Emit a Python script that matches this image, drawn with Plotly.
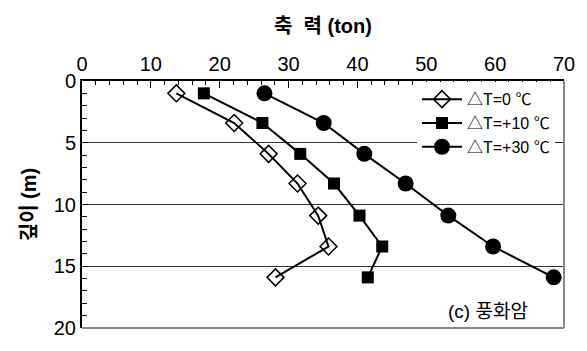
import plotly.graph_objects as go

depth = [1.0, 3.4, 5.9, 8.3, 10.9, 13.4, 15.9]
force_dt0 = [13.7, 22.1, 27.1, 31.3, 34.3, 35.8, 28.1]
force_dt10 = [17.7, 26.2, 31.7, 36.6, 40.3, 43.6, 41.5]
force_dt30 = [26.5, 35.1, 41.0, 47.0, 53.2, 59.7, 68.5]
names = ["△T=0 ℃", "△T=+10 ℃", "△T=+30 ℃"]
x_ticks = [0, 10, 20, 30, 40, 50, 60, 70]
y_ticks = [0, 5, 10, 15, 20]

FONT = "Liberation Sans, Noto Sans CJK KR, sans-serif"

fig = go.Figure()
fig.add_trace(go.Scatter(x=force_dt0, y=depth, name=names[0], mode="lines+markers",
                         line=dict(color="black", width=2),
                         marker=dict(symbol="diamond-open", size=13, color="black",
                                     line=dict(width=1.5, color="black"))))
fig.add_trace(go.Scatter(x=force_dt10, y=depth, name=names[1], mode="lines+markers",
                         line=dict(color="black", width=2),
                         marker=dict(symbol="square", size=12, color="black")))
fig.add_trace(go.Scatter(x=force_dt30, y=depth, name=names[2], mode="lines+markers",
                         line=dict(color="black", width=2),
                         marker=dict(symbol="circle", size=16, color="black")))

fig.update_layout(
    width=587, height=351,
    margin=dict(l=82, r=12, t=80.5, b=11.5),
    plot_bgcolor="white", paper_bgcolor="white",
    font=dict(family=FONT, color="black", size=20),
    showlegend=True,
    legend=dict(x=0.695, y=0.995, xanchor="left", yanchor="top",
                bgcolor="white", borderwidth=0,
                font=dict(size=16, family=FONT),
                tracegroupgap=0, itemwidth=40),
    xaxis=dict(side="top", range=[0, 70], tickvals=x_ticks,
               ticks="inside", ticklen=7, tickwidth=1, tickcolor="black",
               showline=True, linecolor="black", linewidth=2,
               showgrid=False, zeroline=False,
               minor=dict(dtick=2, ticks="inside", ticklen=4, tickcolor="black", showgrid=False),
               title=dict(text="<b>축  력 (ton)</b>", font=dict(size=20), standoff=14),
               tickfont=dict(size=20)),
    yaxis=dict(range=[20, 0], tickvals=y_ticks,
               ticks="inside", ticklen=6, tickwidth=1, tickcolor="black",
               showline=True, linecolor="black", linewidth=2,
               showgrid=True, gridcolor="#333333", gridwidth=1, zeroline=False,
               minor=dict(dtick=1, ticks="inside", ticklen=5, tickcolor="black", showgrid=False),
               title=dict(text="<b>깊이 (m)</b>", font=dict(size=20), standoff=12),
               tickfont=dict(size=20)),
    annotations=[dict(text="(c) 풍화암", xref="paper", yref="paper", x=0.842, y=0.066,
                      showarrow=False, font=dict(size=19, family=FONT), xanchor="center", yanchor="middle")],
    shapes=[
        dict(type="line", xref="paper", yref="paper", x0=1, x1=1, y0=0, y1=1,
             line=dict(color="#888888", width=2), layer="above"),
        dict(type="line", xref="paper", yref="paper", x0=0, x1=1, y0=0, y1=0,
             line=dict(color="#888888", width=2), layer="above"),
    ],
)

fig.write_html("out.html")
